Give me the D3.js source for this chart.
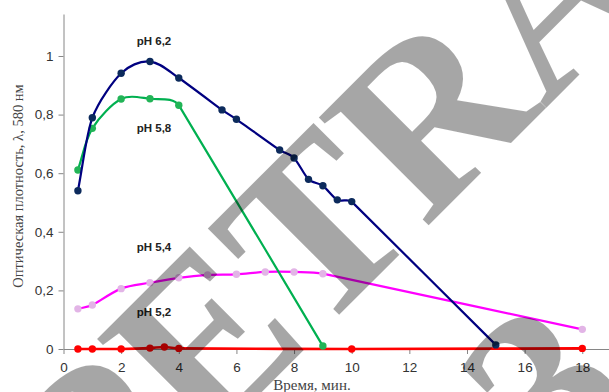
<!DOCTYPE html>
<html>
<head>
<meta charset="utf-8">
<script src="https://cdn.jsdelivr.net/npm/d3@7"></script>
<style>
  html, body { margin: 0; padding: 0; background: #fff; }
  svg { display: block; }
</style>
</head>
<body>
<svg id="chart" width="609" height="392"></svg>
<script>
// Optical density at 580 nm over time, for four pH values
const timesPH62  = [0.5, 1, 2, 3, 4, 5.5, 6, 7.5, 8, 8.5, 9, 9.5, 10, 15];
const valuesPH62 = [0.540, 0.789, 0.941, 0.981, 0.925, 0.816, 0.784, 0.679, 0.652, 0.579, 0.557, 0.509, 0.503, 0.014];

const timesPH58  = [0.5, 1, 2, 3, 4, 9];
const valuesPH58 = [0.611, 0.753, 0.853, 0.854, 0.832, 0.010];

const timesPH54  = [0.5, 1, 2, 3, 4, 5, 6, 7, 8, 9, 18];
const valuesPH54 = [0.137, 0.150, 0.206, 0.226, 0.243, 0.253, 0.255, 0.263, 0.263, 0.257, 0.067];

const timesPH52  = [0.5, 1, 2, 3, 3.5, 4, 10, 18];
const valuesPH52 = [0, 0, 0, 0.003, 0.007, 0.002, 0, 0.002];

const seriesNames = ["pH 6,2", "pH 5,8", "pH 5,4", "pH 5,2"];
const xTickValues = [0, 2, 4, 6, 8, 10, 12, 14, 16, 18];
const yTickValues = [0, 0.2, 0.4, 0.6, 0.8, 1];
const xTitle = "Время, мин.";
const yTitle = "Оптическая плотность, λ, 580 нм";
const stampFront = "PE";
const stampBack = "TRA";
const stampNext = "3";

const svg = d3.select("#chart");

const x = d3.scaleLinear().domain([0, 19]).range([63.5, 611.1]);
const y = d3.scaleLinear().domain([0, 1.1433]).range([349, 14]);

const fmt = d => String(d).replace(".", ",");
const axisColor = "#868686";

// axes
const gx = svg.append("g").attr("transform", `translate(0,${y(0)})`)
  .call(d3.axisBottom(x).tickValues(xTickValues).tickSize(5).tickSizeOuter(0).tickPadding(8).tickFormat(fmt));
const gy = svg.append("g").attr("transform", `translate(${x(0)},0)`)
  .call(d3.axisLeft(y).tickValues(yTickValues).tickSize(5).tickSizeOuter(0).tickPadding(5).tickFormat(fmt));
[gx, gy].forEach(g => {
  g.selectAll("path.domain, line").attr("stroke", axisColor).attr("stroke-width", 1);
  g.selectAll("text").attr("fill", "#333").attr("font-family", "Liberation Sans, Arial, sans-serif").attr("font-size", 13.5);
});

// axis titles
svg.append("text")
  .attr("transform", `translate(23,${186}) rotate(-90)`)
  .attr("text-anchor", "middle")
  .attr("font-family", "Liberation Serif, Times New Roman, serif")
  .attr("font-size", 14.5)
  .attr("fill", "#444")
  .text(yTitle);
svg.append("text")
  .attr("x", 312).attr("y", 390)
  .attr("text-anchor", "middle")
  .attr("font-family", "Liberation Serif, Times New Roman, serif")
  .attr("font-size", 15)
  .attr("fill", "#444")
  .text(xTitle);

const series = [
  { name: seriesNames[3], t: timesPH52, v: valuesPH52, line: "#ff0000", dot: "#ff0000", w: 2.6 },
  { name: seriesNames[2], t: timesPH54, v: valuesPH54, line: "#ff00ff", dot: "#e2b4e6", w: 2.2 },
  { name: seriesNames[1], t: timesPH58, v: valuesPH58, line: "#00b050", dot: "#22b457", w: 2.2 },
  { name: seriesNames[0], t: timesPH62, v: valuesPH62, line: "#000080", dot: "#0c2a5c", w: 2.2 }
];

// Smoothed polyline: cubic Bezier per segment, tangent along the neighbours' chord,
// handle length limited by the shorter adjacent segment so long runs stay straight.
function smoothPath(pts) {
  const n = pts.length;
  const dist = (a, b) => Math.hypot(b[0] - a[0], b[1] - a[1]);
  const tan = pts.map((q, i) => {
    const a = pts[Math.max(0, i - 1)], b = pts[Math.min(n - 1, i + 1)];
    const m = dist(a, b) || 1;
    return [(b[0] - a[0]) / m, (b[1] - a[1]) / m];
  });
  const p = d3.path();
  p.moveTo(pts[0][0], pts[0][1]);
  for (let i = 0; i < n - 1; i++) {
    const a = pts[i], b = pts[i + 1];
    const L = dist(a, b);
    const dPrev = i > 0 ? dist(pts[i - 1], a) : L;
    const dNext = i < n - 2 ? dist(b, pts[i + 2]) : L;
    const k1 = L / 3 * Math.min(1, dPrev / L);
    const k2 = L / 3 * Math.min(1, dNext / L);
    p.bezierCurveTo(a[0] + tan[i][0] * k1, a[1] + tan[i][1] * k1,
                    b[0] - tan[i + 1][0] * k2, b[1] - tan[i + 1][1] * k2,
                    b[0], b[1]);
  }
  return p.toString();
}

series.forEach(s => {
  const data = s.t.map((t, i) => [t, s.v[i]]);
  const px = data.map(d => [x(d[0]), y(d[1])]);
  const g = svg.append("g");
  g.append("path").attr("d", smoothPath(px)).attr("fill", "none")
    .attr("stroke", s.line).attr("stroke-width", s.w);
  g.selectAll("circle").data(data).join("circle")
    .attr("cx", d => x(d[0])).attr("cy", d => y(d[1])).attr("r", 3.7)
    .attr("fill", s.dot);
});

// series captions
const captions = [
  { text: seriesNames[0], t: 3.14, v: 1.037 },
  { text: seriesNames[1], t: 3.14, v: 0.742 },
  { text: seriesNames[2], t: 3.14, v: 0.333 },
  { text: seriesNames[3], t: 3.14, v: 0.113 }
];
svg.selectAll("text.caption").data(captions).join("text")
  .attr("class", "caption")
  .attr("x", d => x(d.t)).attr("y", d => y(d.v))
  .attr("text-anchor", "middle")
  .attr("font-family", "Liberation Sans, Arial, sans-serif")
  .attr("font-weight", "bold")
  .attr("font-size", 11.5)
  .attr("fill", "#222")
  .text(d => d.text);

// diagonal stamp over the plot
const stamp = svg.append("g")
  .attr("transform", "rotate(-45)")
  .attr("font-family", "Liberation Serif, Times New Roman, serif")
  .attr("font-size", 235)
  .attr("font-weight", "bold")
  .attr("fill", "#000")
  .attr("fill-opacity", 0.35);
stamp.append("text").attr("x", -18.4).attr("y", 462.4).attr("text-anchor", "end").text(stampFront);
stamp.append("text").attr("x", -18.4).attr("y", 462.4).attr("text-anchor", "start").text(stampBack);
stamp.append("text").attr("x", 53).attr("y", 738).attr("text-anchor", "start").text(stampNext);
</script>
</body>
</html>
